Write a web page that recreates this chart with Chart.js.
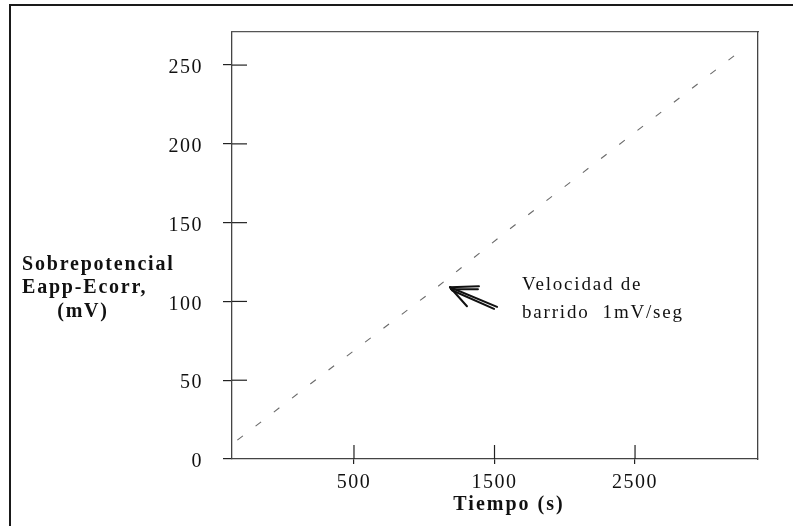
<!DOCTYPE html>
<html><head><meta charset="utf-8">
<script src="https://cdn.jsdelivr.net/npm/chart.js@4.4.1/dist/chart.umd.min.js"></script>
<style>
html,body{margin:0;padding:0;background:#fff;overflow:hidden;width:793px;height:526px;}
#wrap{position:absolute;left:0;top:0;width:793px;height:526px;}
</style></head><body>
<div id="wrap"><canvas id="c" width="793" height="526"></canvas></div>
<script>
// ---- data ----
const timeSec = [-330, 400, 1020, 1580, 2640, 3250];
const overpotential = [12, 62, 104, 144, 217, 259];
const xTickValues = [500, 1500, 2500];
const yTickValues = [0, 50, 100, 150, 200, 250];
const yTitleLines = ['Sobrepotencial', 'Eapp-Ecorr,', '(mV)'];
const xTitle = 'Tiempo (s)';
const noteLines = ['Velocidad de', 'barrido  1mV/seg'];
// annotation anchors in data units
const noteAt = {x: 1696, y1: 110.4, y2: 92.6};
const arrowTip = {x: 1183, y: 109};
const arrowTail = {x: 1518, y: 96.5};

const SERIF = '"Liberation Serif", "Times New Roman", serif';

const decor = {
  id: 'decor',
  beforeDraw(chart) {
    const ctx = chart.ctx;
    ctx.save();
    ctx.fillStyle = '#fff'; ctx.fillRect(0, 0, chart.width, chart.height);
    // outer figure frame (left and top edges only visible)
    ctx.strokeStyle = '#1a1a1a'; ctx.lineWidth = 2;
    ctx.beginPath(); ctx.moveTo(10, chart.height); ctx.lineTo(10, 5); ctx.lineTo(chart.width, 5); ctx.stroke();
    ctx.restore();
    ctx.letterSpacing = '1.5px';
  },
  afterDraw(chart) {
    const {ctx, chartArea: a, scales: {x, y}} = chart;
    ctx.save();
    ctx.letterSpacing = '0px';
    ctx.strokeStyle = '#222'; ctx.lineWidth = 1.2;
    y.ticks.forEach(t => {
      if (t.value === 0) return;
      const py = y.getPixelForValue(t.value);
      ctx.beginPath(); ctx.moveTo(a.left, py); ctx.lineTo(a.left + 15, py); ctx.stroke();
    });
    x.ticks.forEach(t => {
      const px = x.getPixelForValue(t.value);
      ctx.beginPath(); ctx.moveTo(px, a.bottom); ctx.lineTo(px, a.bottom - 14); ctx.stroke();
    });
    // y title (horizontal, three lines)
    ctx.fillStyle = '#111';
    ctx.font = 'bold 20px ' + SERIF;
    ctx.letterSpacing = '1.8px';
    ctx.textBaseline = 'middle';
    ctx.textAlign = 'left';
    ctx.fillText(yTitleLines[0], 22, 265);
    ctx.fillText(yTitleLines[1], 22, 288);
    ctx.textAlign = 'center';
    ctx.fillText(yTitleLines[2], 83, 312);
    // x title
    ctx.letterSpacing = '2px';
    ctx.fillText(xTitle, 509, 505);
    // note
    ctx.font = '19px ' + SERIF;
    ctx.letterSpacing = '1.8px';
    ctx.textAlign = 'left';
    const nx = x.getPixelForValue(noteAt.x);
    ctx.fillText(noteLines[0], nx, y.getPixelForValue(noteAt.y1));
    ctx.fillText(noteLines[1], nx, y.getPixelForValue(noteAt.y2));
    // arrow
    const tx = x.getPixelForValue(arrowTip.x), ty = y.getPixelForValue(arrowTip.y);
    const ex = x.getPixelForValue(arrowTail.x), ey = y.getPixelForValue(arrowTail.y);
    ctx.strokeStyle = '#111'; ctx.lineWidth = 2; ctx.lineCap = 'round';
    ctx.beginPath(); ctx.moveTo(ex, ey); ctx.lineTo(tx, ty); ctx.stroke();
    ctx.beginPath(); ctx.moveTo(ex - 3, ey + 2); ctx.lineTo(tx + 2, ty + 3); ctx.stroke();
    ctx.beginPath(); ctx.moveTo(tx, ty); ctx.lineTo(tx + 29, ty - 1); ctx.stroke();
    ctx.beginPath(); ctx.moveTo(tx + 1, ty + 2); ctx.lineTo(tx + 28, ty + 2); ctx.stroke();
    ctx.beginPath(); ctx.moveTo(tx, ty); ctx.lineTo(tx + 17, ty + 19); ctx.stroke();
    ctx.restore();
  }
};

new Chart(document.getElementById('c'), {
  type: 'line',
  data: {
    datasets: [{
      data: timeSec.map((t, i) => ({x: t, y: overpotential[i]})),
      borderColor: '#6a6a6a', borderWidth: 1.1, borderDash: [7, 16],
      pointRadius: 0, tension: 0, fill: false
    }]
  },
  options: {
    responsive: false, animation: false, devicePixelRatio: 1,
    layout: {padding: 0},
    plugins: {legend: {display: false}, tooltip: {enabled: false}},
    scales: {
      x: {
        type: 'linear', position: 'bottom', min: -368, max: 3375,
        afterBuildTicks: s => { s.ticks = xTickValues.map(v => ({value: v})); },
        grid: {drawOnChartArea: false, drawTicks: true, tickLength: 5, color: '#222', lineWidth: 1.2},
        border: {display: true, color: '#444', width: 1.3, dash: [16, 5, 4, 5]},
        ticks: {font: {family: SERIF, size: 20}, color: '#111', padding: 7, maxRotation: 0, autoSkip: false,
                callback: v => String(v)},
        afterFit: s => { s.height = 67; }
      },
      y: {
        type: 'linear', position: 'left', min: 0, max: 271,
        afterBuildTicks: s => { s.ticks = yTickValues.map(v => ({value: v})); },
        grid: {drawOnChartArea: false, drawTicks: true, tickLength: 9, color: '#222', lineWidth: 1.2},
        border: {display: true, color: '#444', width: 1.3, dash: [14, 4, 3, 4]},
        ticks: {font: {family: SERIF, size: 20}, color: '#111', padding: 20, labelOffset: 3, autoSkip: false,
                callback: v => String(v)},
        afterFit: s => { s.width = 232; }
      },
      x2: {
        type: 'linear', position: 'top', min: 0, max: 1,
        grid: {drawOnChartArea: false, drawTicks: false},
        ticks: {display: false},
        border: {display: true, color: '#555', width: 1.2, dash: [16, 7, 4, 7]},
        afterFit: s => { s.height = 32; }
      },
      y2: {
        type: 'linear', position: 'right', min: 0, max: 1,
        grid: {drawOnChartArea: false, drawTicks: false},
        ticks: {display: false},
        border: {display: true, color: '#444', width: 1.3, dash: [18, 4, 3, 4]},
        afterFit: s => { s.width = 35; }
      }
    }
  },
  plugins: [decor]
});
</script>
</body></html>
